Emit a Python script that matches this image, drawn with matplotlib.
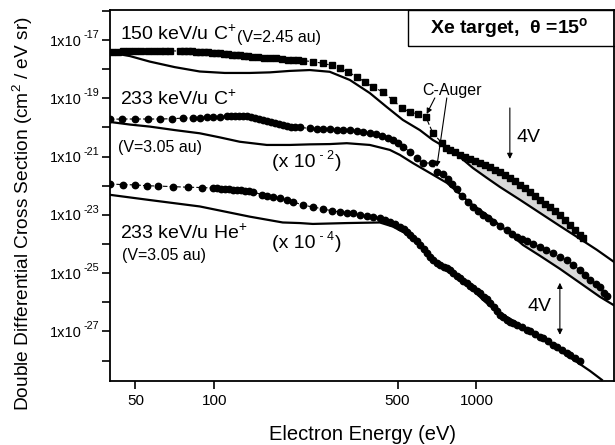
import numpy as np
import matplotlib
matplotlib.use('Agg')
import matplotlib.pyplot as plt
from matplotlib.patches import Rectangle
from matplotlib.ticker import FixedLocator, FuncFormatter, NullLocator, NullFormatter

plt.rcParams['font.family'] = ['Liberation Sans', 'DejaVu Sans']
plt.rcParams['mathtext.fontset'] = 'custom'
plt.rcParams['mathtext.rm'] = 'Liberation Sans'
plt.rcParams['mathtext.it'] = 'Liberation Sans:italic'
plt.rcParams['mathtext.bf'] = 'Liberation Sans:bold'

# ── 150 keV/u C+  (squares) ─────────────────────────────────────
c150_E = [40.6, 42.8, 44.8, 47.2, 49.7, 52.4, 55.7, 58.7, 61.9, 64.7, 67.6,
          73.8, 76.4, 79.2, 82.0, 85.0, 88.0, 91.2, 94.4, 97.8, 101.3, 104.9,
          108.7, 112.5, 116.5, 120.7, 125.0, 129.5, 134.1, 138.9,
          146.4, 154.4, 162.8, 171.6, 180.8, 190.6, 199.2, 208.1, 217.6,
          237.6, 259.3, 280.6, 301.1, 323.0, 349.7, 375.1, 402.5, 439.3,
          479.8, 519.1, 556.9, 597.4, 641.2, 681.9, 737.9,
          764.3, 791.8, 827.4, 864.6, 903.4, 944.2, 986.6, 1030.6, 1076.9,
          1125.3, 1175.8, 1228.8, 1284.0, 1341.6, 1401.8, 1465.0, 1530.8,
          1599.6, 1671.4, 1746.2, 1824.6, 1906.8, 1992.4, 2082.0, 2175.5,
          2273.2, 2375.3, 2482.2, 2548.5]
c150_logdcs = [-17.41, -17.41, -17.39, -17.39, -17.38, -17.38, -17.38, -17.38,
               -17.38, -17.37, -17.37,
               -17.38, -17.38, -17.38, -17.39, -17.40, -17.41, -17.41, -17.42,
               -17.43, -17.45, -17.46, -17.47, -17.49, -17.50, -17.51, -17.53,
               -17.54, -17.56, -17.57,
               -17.58, -17.60, -17.62, -17.63, -17.65, -17.67, -17.69, -17.70,
               -17.71, -17.74, -17.80, -17.87, -17.97, -18.09, -18.26, -18.44,
               -18.61, -18.78, -19.06, -19.33, -19.47, -19.54, -19.64, -20.19,
               -20.53,
               -20.70, -20.77, -20.84, -20.94, -21.01, -21.08, -21.15, -21.22,
               -21.29, -21.35, -21.46, -21.53, -21.63, -21.73, -21.83, -21.97,
               -22.07, -22.21, -22.35, -22.49, -22.62, -22.73, -22.86, -23.00,
               -23.17, -23.34, -23.51, -23.69, -23.79]
c150_th_E = [39.9, 47.6, 56.7, 70.6, 88.0, 109.6, 136.5, 162.8, 194.0, 231.4,
             275.7, 328.8, 392.0, 455.1, 523.7, 608.3, 681.9, 791.8, 864.6,
             969.4, 1096.0, 1228.8, 1465.0, 1746.2, 2082.0, 2482.2, 2882.3,
             3346.0]
c150_th_logdcs = [-17.43, -17.55, -17.74, -17.93, -18.08, -18.13, -18.13,
                  -18.11, -18.06, -18.03, -18.09, -18.37, -18.82, -19.30,
                  -19.74, -20.09, -20.43, -20.77, -21.01, -21.39, -21.73,
                  -22.04, -22.48, -22.93, -23.38, -23.82, -24.20, -24.61]

# ── 233 keV/u C+  (x 10^-2, circles) ────────────────────────────
c233_E = [39.9, 44.4, 49.7, 55.7, 61.9, 68.8, 75.8, 82.8, 88.0, 93.6, 98.7,
          104.9, 111.6, 115.5, 119.6, 123.9, 128.3, 132.9, 137.7, 142.6,
          147.8, 153.1, 158.6, 164.2, 170.1, 176.2, 182.4, 189.0, 195.7,
          202.7, 211.9, 231.4, 246.1, 259.3, 275.7, 293.2, 309.2, 328.8,
          349.7, 368.6, 392.0, 413.2, 435.5, 459.0, 479.8, 501.3, 523.7,
          556.9, 592.3, 624.5, 676.0, 706.4, 744.5, 777.9, 805.8, 842.1,
          879.9, 927.5, 969.4, 1012.9, 1058.1, 1105.6, 1155.3, 1228.8,
          1306.8, 1365.3, 1426.8, 1490.9, 1558.0, 1642.3, 1746.2, 1840.7,
          1957.7, 2082.0, 2214.2, 2333.9, 2482.2, 2593.7, 2710.2, 2856.8,
          2958.7, 3064.6, 3146.6]
c233_logdcs = [-19.72, -19.71, -19.71, -19.71, -19.71, -19.70, -19.68, -19.67,
               -19.66, -19.65, -19.64, -19.63, -19.62, -19.61, -19.60, -19.60,
               -19.61, -19.62, -19.65, -19.67, -19.71, -19.74, -19.78, -19.81,
               -19.85, -19.88, -19.91, -19.95, -19.97, -19.98, -20.00, -20.03,
               -20.04, -20.05, -20.06, -20.08, -20.09, -20.10, -20.12, -20.14,
               -20.19, -20.22, -20.29, -20.36, -20.43, -20.53, -20.66, -20.83,
               -21.05, -21.22, -21.22, -21.52, -21.59, -21.77, -21.94, -22.11,
               -22.35, -22.55, -22.73, -22.86, -23.00, -23.10, -23.24, -23.38,
               -23.51, -23.65, -23.75, -23.82, -23.89, -23.99, -24.10, -24.20,
               -24.30, -24.44, -24.54, -24.71, -24.89, -25.06, -25.23, -25.36,
               -25.47, -25.67, -25.78]
c233_th_E = [39.9, 47.6, 56.7, 70.6, 88.0, 104.9, 125.0, 158.6, 194.0, 231.4,
             275.7, 320.2, 392.0, 467.3, 510.1, 571.8, 664.2, 771.1, 864.6,
             944.2, 1096.0, 1306.8, 1504.1, 1746.2, 2082.0, 2482.2, 2958.7,
             3375.0]
c233_th_logdcs = [-19.81, -19.90, -19.97, -20.09, -20.20, -20.34, -20.49,
                  -20.60, -20.60, -20.58, -20.57, -20.54, -20.60, -20.77,
                  -20.94, -21.22, -21.56, -21.90, -22.28, -22.59, -23.00,
                  -23.55, -24.03, -24.40, -24.85, -25.33, -25.81, -26.12]

# ── 233 keV/u He+  (x 10^-4, circles) ───────────────────────────
he_E = [39.9, 44.8, 49.7, 55.2, 60.8, 69.4, 79.2, 89.6, 98.7, 102.2, 105.8,
        109.6, 113.5, 117.6, 121.7, 126.1, 130.6, 135.3, 140.1, 151.7, 158.6,
        167.1, 177.7, 189.0, 199.2, 217.6, 237.6, 259.3, 280.6, 301.1, 320.2,
        337.6, 359.0, 381.8, 402.5, 427.9, 447.1, 467.3, 488.3, 510.1, 528.4,
        542.5, 556.9, 571.8, 592.3, 608.3, 630.1, 646.9, 664.2, 681.9, 706.4,
        725.1, 751.1, 771.1, 791.8, 812.9, 842.1, 864.6, 887.7, 919.5, 944.2,
        969.4, 1004.2, 1030.6, 1067.5, 1096.0, 1125.3, 1165.6, 1196.8, 1228.8,
        1261.6, 1306.8, 1341.6, 1377.4, 1426.8, 1490.9, 1558.0, 1599.6,
        1671.4, 1746.2, 1792.8, 1873.3, 1957.7, 2027.9, 2118.9, 2214.2,
        2273.2, 2375.3, 2482.2]
he_logdcs = [-21.94, -21.96, -21.97, -22.00, -22.01, -22.03, -22.05, -22.06,
             -22.08, -22.09, -22.10, -22.11, -22.12, -22.13, -22.14, -22.15,
             -22.17, -22.18, -22.20, -22.31, -22.34, -22.37, -22.42, -22.49,
             -22.55, -22.66, -22.73, -22.79, -22.86, -22.90, -22.92, -22.94,
             -23.00, -23.03, -23.08, -23.11, -23.17, -23.23, -23.31, -23.40,
             -23.48, -23.57, -23.69, -23.79, -23.89, -24.03, -24.17, -24.30,
             -24.44, -24.54, -24.64, -24.71, -24.78, -24.82, -24.88, -24.99,
             -25.09, -25.16, -25.26, -25.33, -25.43, -25.50, -25.60, -25.67,
             -25.81, -25.88, -26.02, -26.15, -26.29, -26.43, -26.50, -26.60,
             -26.67, -26.70, -26.77, -26.84, -26.94, -26.98, -27.08, -27.18,
             -27.22, -27.32, -27.46, -27.52, -27.63, -27.73, -27.80, -27.90,
             -28.00]
he_th_E = [39.9, 56.7, 88.0, 136.5, 182.4, 211.9, 237.6, 320.2, 427.9, 479.8,
           533.0, 581.9, 635.6, 694.0, 757.7, 827.4, 903.4, 986.6, 1058.1,
           1125.3, 1228.8, 1341.6, 1465.0, 1599.6, 1824.6, 2082.0, 2375.3,
           2710.2, 3011.0]
he_th_logdcs = [-22.31, -22.49, -22.71, -23.06, -23.26, -23.28, -23.31,
                -23.28, -23.26, -23.40, -23.62, -23.89, -24.23, -24.58,
                -24.85, -25.09, -25.36, -25.64, -25.91, -26.12, -26.36,
                -26.56, -26.77, -26.98, -27.32, -27.66, -28.00, -28.35,
                -28.66]

# energy range where the data lie above the theory (the 4V region)
c150_shade = (827.0, 2550.0)
c233_shade = (1400.0, 3150.0)

y_tick_exps = [-27, -25, -23, -21, -19, -17]


def log_interp(x, xp, logy):
    return 10.0 ** np.interp(np.log10(x), np.log10(xp), logy)


fig = plt.figure(figsize=(6.15, 4.45), dpi=100)
ax = fig.add_axes([0.1789, 0.1438, 0.8195, 0.8337])

series = [
    (c150_E, c150_logdcs, c150_th_E, c150_th_logdcs, 's', c150_shade),
    (c233_E, c233_logdcs, c233_th_E, c233_th_logdcs, 'o', c233_shade),
    (he_E, he_logdcs, he_th_E, he_th_logdcs, 'o', None),
]
for E, logd, thE, thlog, mk, shade in series:
    E = np.array(E)
    dcs = 10.0 ** np.array(logd)
    ax.plot(thE, 10.0 ** np.array(thlog), color='black', lw=1.6, zorder=3)
    ax.plot(E, dcs, color='black', lw=0.8, ls=(0, (4, 2)), marker=mk,
            ms=4.3 if mk == 's' else 4.6, mec='black', mfc='black', zorder=4)
    if shade is not None:
        m = (E >= shade[0]) & (E <= shade[1])
        ax.fill_between(E[m], log_interp(E[m], thE, thlog), dcs[m],
                        color='#d9d9d9', lw=0, zorder=2)

ax.set_xscale('log')
ax.set_yscale('log')
ax.set_xlim(40, 3350)
ax.set_ylim(2e-29, 1.07e-16)

ax.xaxis.set_major_locator(FixedLocator([50, 100, 500, 1000]))
ax.xaxis.set_major_formatter(FuncFormatter(lambda v, p: '%d' % v))
ax.xaxis.set_minor_locator(NullLocator())
ax.yaxis.set_major_locator(FixedLocator(10.0 ** np.arange(-28, -15)))
ax.yaxis.set_major_formatter(NullFormatter())
ax.yaxis.set_minor_locator(NullLocator())
ax.tick_params(axis='both', direction='out', length=6, width=1.2,
               labelsize=11, colors='black')
for s in ax.spines.values():
    s.set_linewidth(1.3)

# y tick labels as "1x10" with a small raised exponent
for k in y_tick_exps:
    ax.annotate('1x10', xy=(0, 10.0 ** k), xycoords=('axes fraction', 'data'),
                xytext=(-28, -1.5), textcoords='offset pixels', ha='right',
                va='center', fontsize=10.5, annotation_clip=False)
    ax.annotate('-%d' % -k, xy=(0, 10.0 ** k), xycoords=('axes fraction', 'data'),
                xytext=(-27, 5), textcoords='offset pixels', ha='left',
                va='center', fontsize=7.8, annotation_clip=False)

ax.set_xlabel('Electron Energy (eV)', fontsize=14.5, labelpad=12)
ax.set_ylabel(r'Double Differential Cross Section (cm$^{2}$ / eV sr)', fontsize=13.8)
ax.yaxis.set_label_coords(-0.149, 0.4515)


def sup_text(x, y, base, sup, tail, size=14, ssize=9, rise=9):
    t1 = ax.annotate(base, xy=(x, y), fontsize=size, va='baseline', ha='left')
    t2 = ax.annotate(sup, xy=(1, 0), xycoords=t1, xytext=(1, rise),
                     textcoords='offset pixels', fontsize=ssize, va='bottom')
    ax.annotate(tail, xy=(1, 0), xycoords=(t2, t1), xytext=(1, 0),
                textcoords='offset pixels', fontsize=size, va='bottom')


# ── annotations ─────────────────────────────────────────────────
ax.text(43.6, 1.05e-17, r'150 keV/u C$^{+}$', fontsize=14, va='baseline')
ax.text(121.8, 8.7e-18, '(V=2.45 au)', fontsize=11.5, va='baseline')
ax.text(43.6, 5.9e-20, r'233 keV/u C$^{+}$', fontsize=14, va='baseline')
ax.text(42.8, 1.48e-21, '(V=3.05 au)', fontsize=11.5, va='baseline')
sup_text(165.6, 4.4e-22, '(x 10', ' - 2', ')')
ax.text(43.6, 1.5e-24, r'233 keV/u He$^{+}$', fontsize=14, va='baseline')
ax.text(44.4, 2.9e-25, '(V=3.05 au)', fontsize=11.5, va='baseline')
sup_text(165.6, 7.4e-25, '(x 10', ' - 4', ')')

ax.text(806, 1.3e-19, 'C-Auger', fontsize=11.5, ha='center', va='baseline')
arrow = dict(arrowstyle='-|>', color='black', lw=0.8, mutation_scale=8,
             shrinkA=0, shrinkB=0)
ax.annotate('', xy=(646, 2.9e-20), xytext=(694, 1.03e-19), arrowprops=arrow)
ax.annotate('', xy=(706, 4.4e-22), xytext=(771, 1.03e-19), arrowprops=arrow)

ax.annotate('', xy=(1341.6, 8.3e-22), xytext=(1341.6, 4.67e-20), arrowprops=arrow)
ax.text(1426, 4.7e-21, '4V', fontsize=14, va='center')
ax.annotate('', xy=(2082, 7.7e-28), xytext=(2082, 4.7e-26),
            arrowprops=dict(arrowstyle='<|-|>', color='black', lw=0.8,
                            mutation_scale=8, shrinkA=0, shrinkB=0))
ax.text(1571, 7.0e-27, '4V', fontsize=14, va='center')

ax.add_patch(Rectangle((0.591, 0.903), 0.45, 0.097, transform=ax.transAxes,
                       fill=False, ec='black', lw=1.0, clip_on=False, zorder=5))
ax.text(0.793, 0.951, r'Xe target,  θ =15$^{\mathbf{o}}$', transform=ax.transAxes,
        fontsize=14, fontweight='bold', ha='center', va='center')

fig.savefig('out.png', dpi=100)
